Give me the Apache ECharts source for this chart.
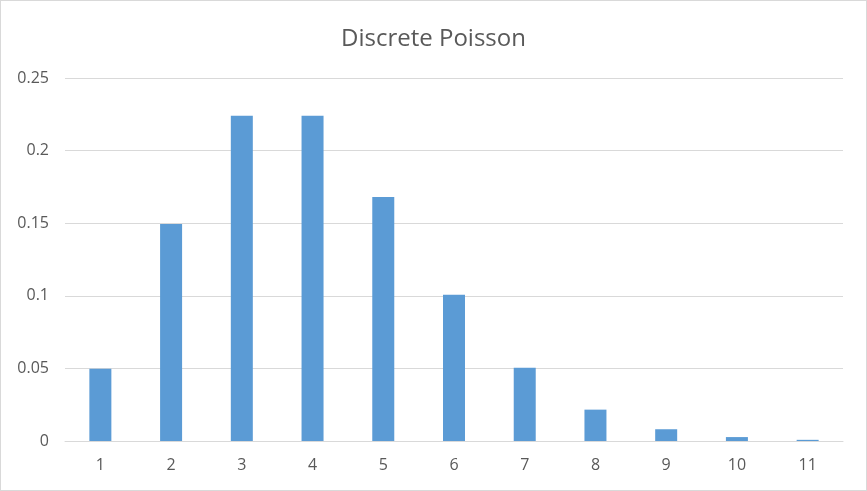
<!DOCTYPE html>
<html>
<head>
<meta charset="utf-8">
<script src="https://cdn.jsdelivr.net/npm/echarts@6/dist/echarts.min.js"></script>
<style>
html,body{margin:0;padding:0;background:#fff;}
#c{width:865px;height:489px;border:1px solid #d9d9d9;}
</style>
</head>
<body>
<div id="c"></div>
<script>
const categories = ['1','2','3','4','5','6','7','8','9','10','11'];
const probabilities = [0.0498, 0.1494, 0.2240, 0.2240, 0.1680, 0.1008, 0.0504, 0.0216, 0.0081, 0.0027, 0.0008];
const yTicks = [0, 0.05, 0.1, 0.15, 0.2, 0.25];
const titleText = 'Discrete Poisson';

const chart = echarts.init(document.getElementById('c'));
chart.setOption({
  animation: false,
  title: {
    text: titleText,
    left: 'center',
    top: 21,
    textStyle: {fontFamily: 'Open Sans', fontSize: 24, fontWeight: 'normal', color: '#595959'}
  },
  grid: {left: 64, right: 23, top: 77, bottom: 49},
  xAxis: {
    type: 'category',
    data: categories,
    axisLine: {lineStyle: {color: '#d9d9d9'}},
    axisTick: {show: false},
    axisLabel: {color: '#595959', fontFamily: 'Open Sans', fontSize: 16, margin: 16}
  },
  yAxis: {
    type: 'value',
    min: 0, max: yTicks[yTicks.length-1], interval: 0.05,
    axisLine: {show: false},
    axisTick: {show: false},
    splitLine: {lineStyle: {color: '#d9d9d9'}},
    axisLabel: {color: '#595959', fontFamily: 'Open Sans', fontSize: 16, margin: 16,
      formatter: v => String(parseFloat(v.toFixed(2)))}
  },
  series: [{
    type: 'bar',
    data: probabilities,
    barWidth: 22,
    itemStyle: {color: '#5B9BD5'}
  }]
});
</script>
</body>
</html>
